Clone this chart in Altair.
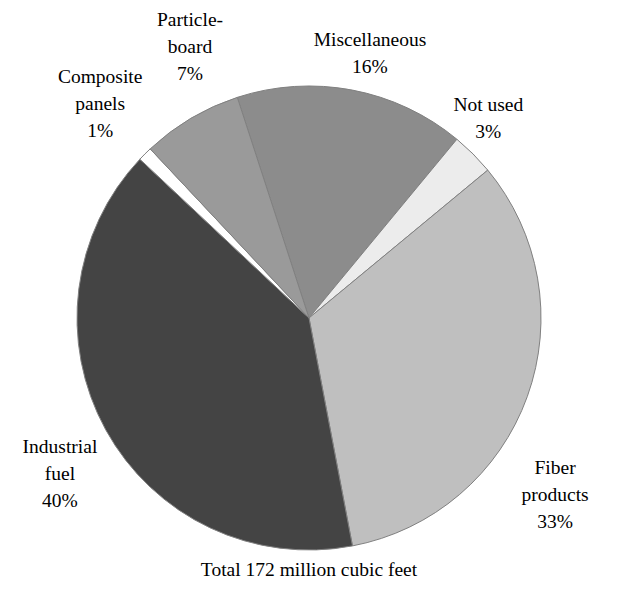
import math
import altair as alt
import pandas as pd

categories = ["Miscellaneous", "Not used", "Fiber products", "Industrial fuel", "Composite panels", "Particleboard"]
label_text = ["Miscellaneous\n16%", "Not used\n3%", "Fiber\nproducts\n33%", "Industrial\nfuel\n40%", "Composite\npanels\n1%", "Particle-\nboard\n7%"]
values = [16, 3, 33, 40, 1, 7]
colors = ["#8c8c8c", "#ececec", "#bfbfbf", "#444444", "#ffffff", "#9a9a9a"]
total_label = "Total 172 million cubic feet"

FONT = "Liberation Serif"
START_DEG = -18.0
CX, CY, R = 301, 310, 232
LINE_H = 27
# label nudges (degrees from slice middle, radius in px)
label_nudge = [2.2, -3.0, 15.9, -3.3, 0.7, 6.9]
label_rad = [271, 268, 303, 294, 299, 296]

df = pd.DataFrame({"cat": categories, "value": values, "order": list(range(len(values))), "label": label_text})
tot = sum(values)
cum = 0
lx, ly = [], []
for i, v in enumerate(values):
    mid = START_DEG + (cum + v / 2) / tot * 360 + label_nudge[i]
    cum += v
    a = math.radians(mid)
    n_lines = label_text[i].count("\n") + 1
    lx.append(CX + label_rad[i] * math.sin(a))
    ly.append(CY - label_rad[i] * math.cos(a) - (n_lines - 1) * LINE_H / 2)
df["lx"] = lx
df["ly"] = ly

start = math.radians(START_DEG)
pie = alt.Chart(df).mark_arc(radius=R, stroke="#808080", strokeWidth=1).encode(
    theta=alt.Theta("value:Q", stack=True, scale=alt.Scale(range=[start, start + 2 * math.pi])),
    order=alt.Order("order:Q"),
    color=alt.Color("cat:N", scale=alt.Scale(domain=categories, range=colors), legend=None),
    x=alt.value(CX),
    y=alt.value(CY),
)

labels = alt.Chart(df).mark_text(
    font=FONT, fontSize=19.5, lineBreak="\n", lineHeight=LINE_H,
    align="center", baseline="middle", color="#000000"
).encode(
    x=alt.X("lx:Q", scale=None),
    y=alt.Y("ly:Q", scale=None),
    text="label:N",
)

total = alt.Chart(pd.DataFrame({"t": [total_label]})).mark_text(
    font=FONT, fontSize=19.5, align="center", baseline="middle", color="#000000"
).encode(x=alt.value(CX), y=alt.value(562), text="t:N")

chart = alt.layer(pie, labels, total).properties(
    width=602, height=591, padding=0, autosize=alt.AutoSizeParams(type="none")
).configure_view(stroke=None)

chart.save("out.html", embed_options={"renderer": "svg", "actions": False})
